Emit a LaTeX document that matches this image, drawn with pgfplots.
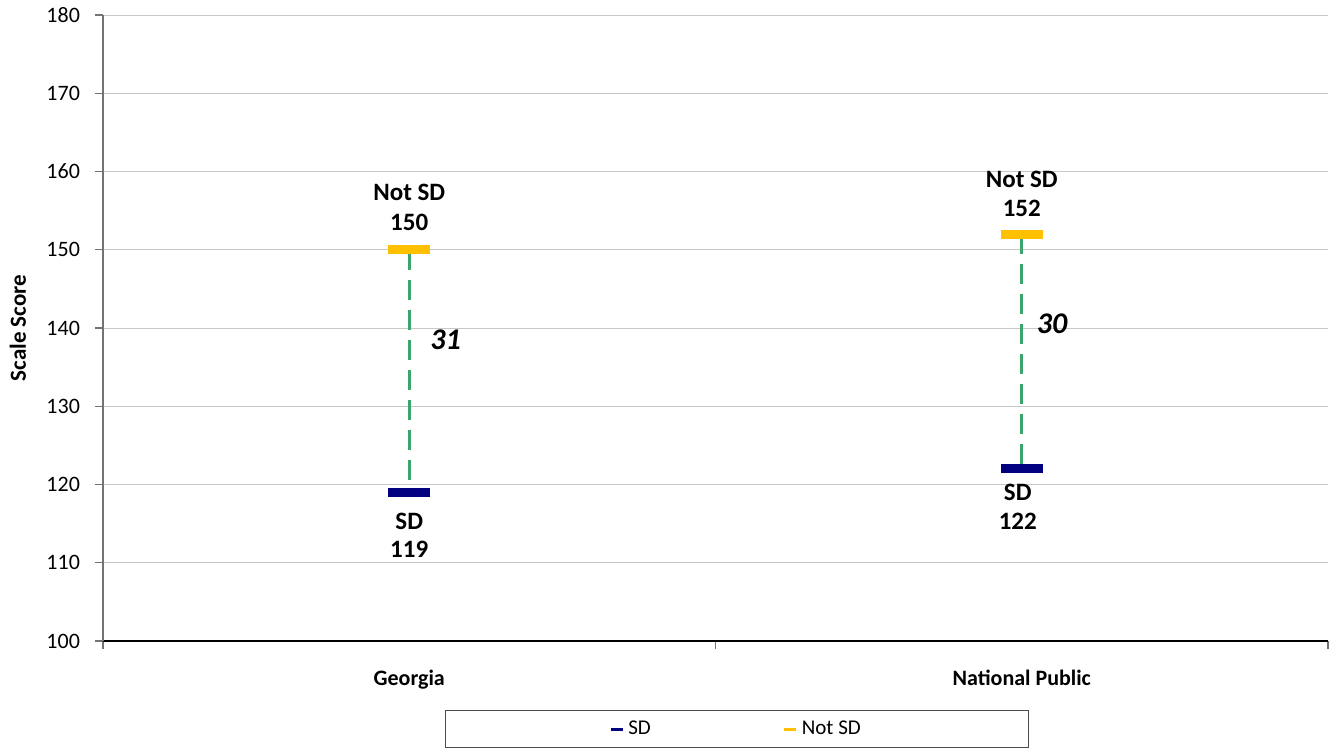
\documentclass[border=0pt]{standalone}
\usepackage{pgfplots}
\pgfplotsset{compat=1.18}
\usepackage{fontspec}
\setmainfont{Carlito}
\definecolor{sdblue}{RGB}{0,0,128}
\definecolor{nsdyellow}{RGB}{255,192,0}
\definecolor{gapgreen}{RGB}{60,165,110}
\definecolor{gridgray}{RGB}{200,200,200}
\begin{document}
\begin{tikzpicture}
\path[use as bounding box] (-51.5pt,-55pt) rectangle (614pt,320.5pt);
\begin{axis}[
  at={(0,0)}, anchor=south west,
  scale only axis, width=612.5pt, height=313pt,
  xmin=-0.5, xmax=1.5, ymin=100, ymax=180,
  ytick={100,110,...,180},
  xtick={0,1}, xticklabels={Georgia,National Public},
  minor xtick={-0.5,0.5,1.5},
  axis x line*=bottom, axis y line*=left,
  x axis line style={black, line width=0.8pt},
  y axis line style={black!55, line width=0.6pt},
  tick align=outside,
  major tick length=4pt, minor tick length=4pt,
  xtick style={draw=none},
  minor x tick style={draw=black!55, line width=0.6pt},
  ytick style={draw=black!55, line width=0.6pt},
  ymajorgrids, grid style={gridgray, line width=0.5pt},
  /pgf/number format/assume math mode=true,
  yticklabel style={font=\fontsize{11}{13}\selectfont, xshift=-4pt},
  xticklabel style={font=\fontsize{11}{13}\selectfont\bfseries, yshift=-7pt},
  ylabel={Scale Score},
  ylabel style={font=\fontsize{11.5}{13}\selectfont\bfseries, at={([xshift=-42.5pt]rel axis cs:0,0.5)}, anchor=center, rotate=0},
  legend style={at={(0.5176,-0.1406)}, anchor=center, draw=black!70, line width=0.6pt,
    font=\fontsize{10.5}{12}\selectfont, inner xsep=82pt, inner ysep=3pt,
    legend columns=2, /tikz/every even column/.append style={column sep=64pt}},
  legend image code/.code={\draw[#1, line width=1.5pt] (0pt,0pt) -- (6pt,0pt);},
  clip=false,
]
\addplot[gapgreen, line width=1.6pt, dash pattern=on 10pt off 5pt, forget plot] coordinates {(0,150) (0,119)};
\addplot[gapgreen, line width=1.6pt, dash pattern=on 10pt off 5pt, forget plot] coordinates {(1,152) (1,122)};
\addplot[sdblue, only marks, mark=-, mark size=10.5pt, mark options={line width=4.5pt}] coordinates {(0,119) (1,122)};
\addlegendentry{SD}
\addplot[nsdyellow, only marks, mark=-, mark size=10.5pt, mark options={line width=4.5pt}] coordinates {(0,150) (1,152)};
\addlegendentry{Not SD}
\begin{scope}[every node/.style={font=\fontsize{12.5}{15}\selectfont\bfseries, anchor=base}]
\node[yshift=9.5pt] at (axis cs:0,150) {150};
\node[yshift=24.5pt] at (axis cs:0,150) {Not SD};
\node[yshift=9pt] at (axis cs:1,152) {152};
\node[yshift=23.5pt] at (axis cs:1,152) {Not SD};
\node[yshift=-18.5pt] at (axis cs:0,119) {SD};
\node[yshift=-32.5pt] at (axis cs:0,119) {119};
\node[yshift=-16pt, xshift=-2pt] at (axis cs:1,122) {SD};
\node[yshift=-30.5pt, xshift=-2pt] at (axis cs:1,122) {122};
\end{scope}
\node[font=\fontsize{15}{17}\selectfont\bfseries\itshape, anchor=west] at ([xshift=7pt]axis cs:0,138.5) {31};
\node[font=\fontsize{15}{17}\selectfont\bfseries\itshape, anchor=west] at ([xshift=4pt]axis cs:1,140.6) {30};
\end{axis}
\end{tikzpicture}
\end{document}
